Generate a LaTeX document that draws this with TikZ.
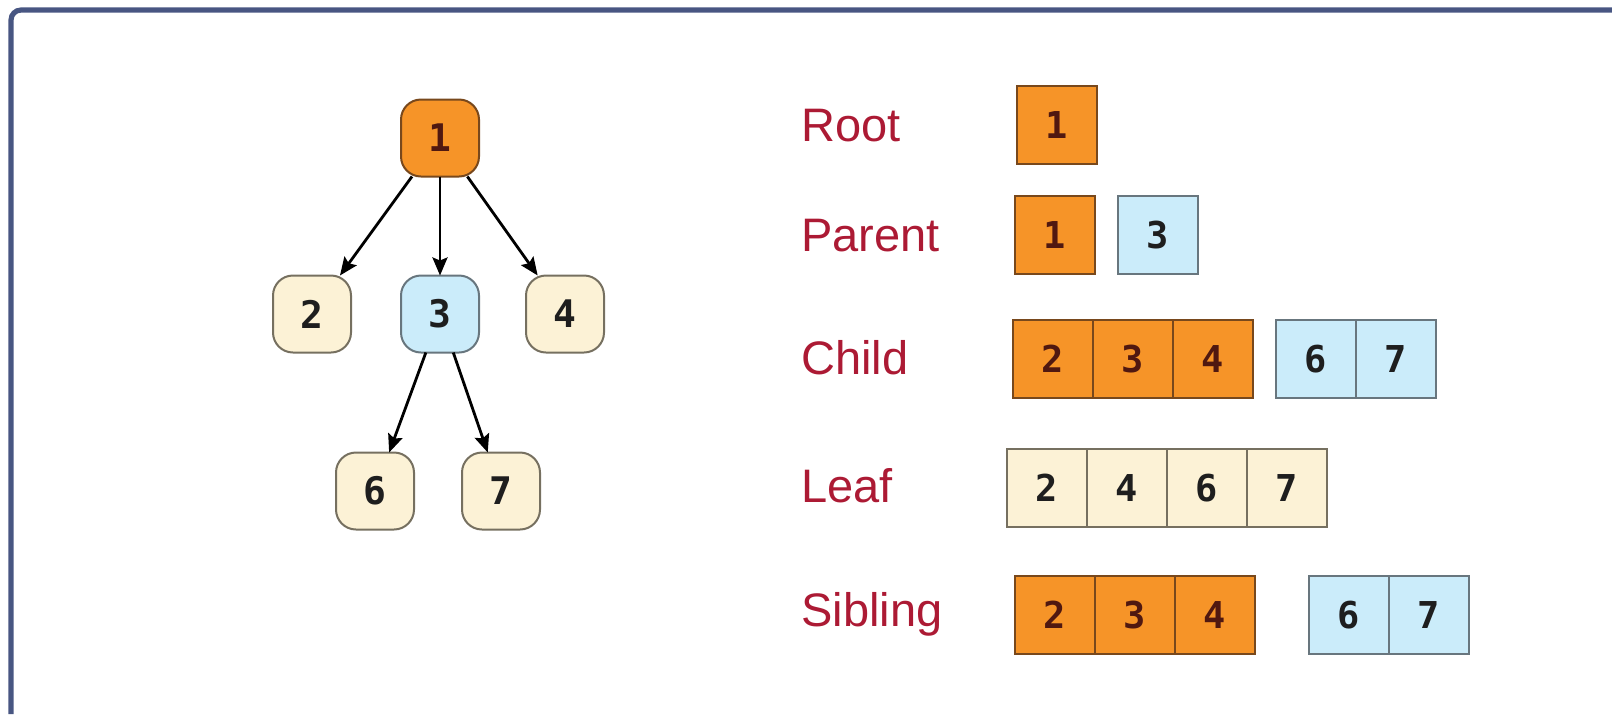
\documentclass[tikz,border=0pt]{standalone}
\usepackage{fontspec}
\setmainfont{Liberation Sans}
\newfontfamily\digitfont{DejaVu Sans Mono}[BoldFont={DejaVu Sans Mono Bold}]
\usetikzlibrary{arrows.meta}
\definecolor{orfill}{RGB}{246,148,40}
\definecolor{ordraw}{RGB}{120,72,28}
\definecolor{ortext}{RGB}{80,24,16}
\definecolor{blfill}{RGB}{203,236,250}
\definecolor{bldraw}{RGB}{104,118,126}
\definecolor{crfill}{RGB}{252,242,214}
\definecolor{crdraw}{RGB}{118,112,96}
\definecolor{dtext}{RGB}{30,30,30}
\definecolor{lbl}{RGB}{172,26,52}
\definecolor{framec}{RGB}{72,86,130}
\tikzset{
  tnode/.style={draw, line width=1pt, rounded corners=10pt, minimum width=39pt, minimum height=38.5pt, inner sep=0pt, outer sep=0pt, font=\digitfont\bfseries\fontsize{19}{19}\selectfont, text=dtext},
  bnode/.style={draw, line width=1.1pt, minimum width=40pt, minimum height=39pt, inner sep=0pt, outer sep=0pt, font=\digitfont\bfseries\fontsize{18.5}{18.5}\selectfont, text=dtext},
  orn/.style={fill=orfill, draw=ordraw, text=ortext},
  bln/.style={fill=blfill, draw=bldraw},
  crn/.style={fill=crfill, draw=crdraw},
  lab/.style={anchor=base west, inner sep=0pt, text=lbl, font=\fontsize{23.5}{23.5}\selectfont},
  edge/.style={line width=1.4pt, -{Stealth[length=9pt, width=7.5pt, inset=1.5pt]}},
  frame/.style={draw=framec, line width=2.6pt, rounded corners=5pt}
}
\begin{document}
\begin{tikzpicture}[x=0.5pt, y=-0.5pt]
\useasboundingbox (0,0) rectangle (1612,714);
\path[frame] (11,714) -- (11,10) -- (1612,10);

% tree
\node[tnode, orn] (t1) at (440,138) {1};
\node[tnode, crn] (t2) at (312,314) {2};
\node[tnode, bln] (t3) at (440,314) {3};
\node[tnode, crn] (t4) at (565,314) {4};
\node[tnode, crn] (t6) at (375,491) {6};
\node[tnode, crn] (t7) at (501,491) {7};
\draw[edge] (t1) -- (t2);
\draw[edge] (t1) -- (t3);
\draw[edge] (t1) -- (t4);
\draw[edge] (t3) -- (t6);
\draw[edge] (t3) -- (t7);

% labels
\node[lab] (lroot) at (801,141) {Root};
\node[lab] (lpar) at (801,251) {Parent};
\node[lab] (lchild) at (801,374) {Child};
\node[lab] (lleaf) at (801,502) {Leaf};
\node[lab] (lsib) at (801,626) {Sibling};

% Root
\node[bnode, orn] (r1) at (1057,125) {1};
% Parent
\node[bnode, orn] (p1) at (1055,235) {1};
\node[bnode, bln] (p3) at (1158,235) {3};
% Child
\node[bnode, orn] (c2) at (1053,359) {2};
\node[bnode, orn] (c3) at (1133,359) {3};
\node[bnode, orn] (c4) at (1213,359) {4};
\node[bnode, bln] (c6) at (1316,359) {6};
\node[bnode, bln] (c7) at (1396,359) {7};
% Leaf
\node[bnode, crn] (f2) at (1047,488) {2};
\node[bnode, crn] (f4) at (1127,488) {4};
\node[bnode, crn] (f6) at (1207,488) {6};
\node[bnode, crn] (f7) at (1287,488) {7};
% Sibling
\node[bnode, orn] (s2) at (1055,615) {2};
\node[bnode, orn] (s3) at (1135,615) {3};
\node[bnode, orn] (s4) at (1215,615) {4};
\node[bnode, bln] (s6) at (1349,615) {6};
\node[bnode, bln] (s7) at (1429,615) {7};
\end{tikzpicture}
\end{document}
